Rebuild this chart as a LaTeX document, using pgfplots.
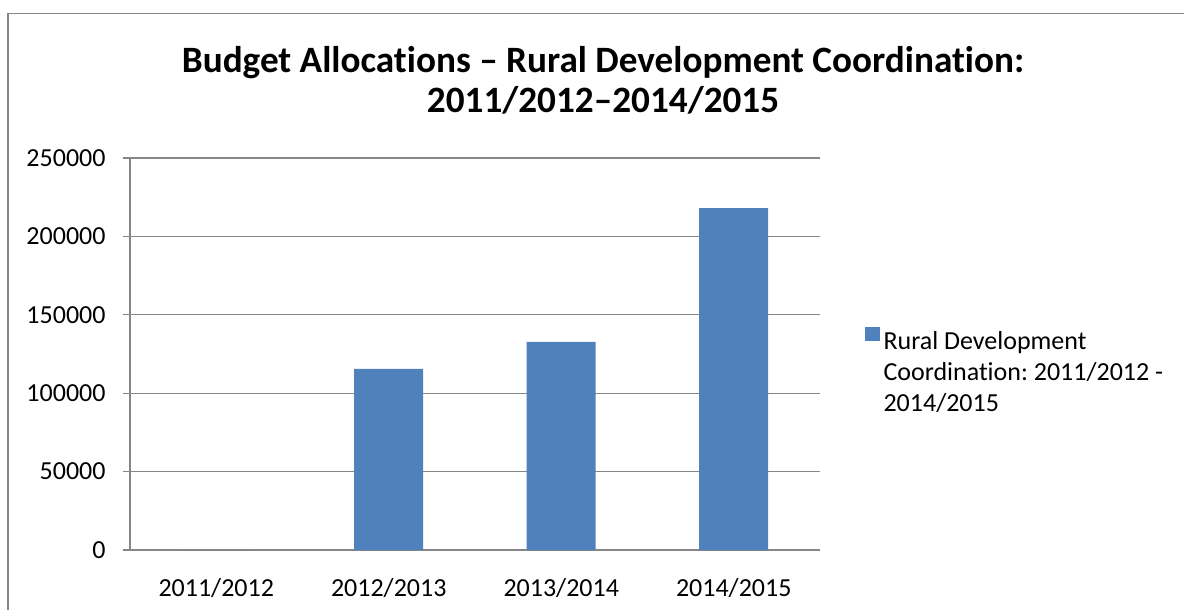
\documentclass[border=0pt]{standalone}
\usepackage{pgfplots}
\pgfplotsset{compat=1.18}
\usepackage{fontspec}
\setmainfont[Ligatures=NoCommon, Numbers={Monospaced,Lining}]{Carlito}
\frenchspacing
\definecolor{barblue}{HTML}{4F81BD}
\definecolor{axgray}{HTML}{868686}
\begin{document}
\begin{tikzpicture}
\useasboundingbox (0,0) rectangle (592pt,-305pt);
\draw[axgray, line width=0.9pt] (4pt,-320pt) -- (4pt,-6.8pt) -- (610pt,-6.8pt);
\node[font=\fontsize{18.6}{20}\selectfont\bfseries, align=center] at (301.5pt,-40pt)
  {Budget Allocations -- Rural Development Coordination:\\2011/2012--2014/2015};
\begin{axis}[
  at={(65pt,-275pt)}, anchor=south west,
  scale only axis, width=345pt, height=196pt,
  xmin=0, xmax=4, ymin=0, ymax=250000,
  axis lines*=left,
  axis line style={axgray, line width=0.6pt},
  ytick={0,50000,100000,150000,200000,250000},
  yticklabels={0,50000,100000,150000,200000,250000},
  scaled y ticks=false,
  ymajorgrids, grid style={axgray, line width=0.6pt},
  tick align=outside, major tick length=3.7pt,
  tick style={axgray, line width=0.6pt},
  xtick={0.5,1.5,2.5,3.5},
  xticklabels={2011/2012,2012/2013,2013/2014,2014/2015},
  xtick style={draw=none},
  extra x ticks={0,1,2,3,4}, extra x tick labels={},
  extra x tick style={tick style={axgray, line width=0.6pt}, major tick length=4pt},
  tick label style={font=\fontsize{13}{15}\selectfont},
  yticklabel style={xshift=-5pt},
  xticklabel style={yshift=-7pt},
  legend style={at={(axis description cs:1.064,0.57)}, anchor=north west, draw=none,
    inner sep=0pt, font=\fontsize{13}{15.5}\selectfont, nodes={align=left, anchor=north west}},
  legend image code/.code={\fill[barblue] (0pt,-7pt) rectangle (7.5pt,0pt);},
]
\addplot[ybar, bar width=34.5pt, fill=barblue, draw=none] coordinates {(0.5,0) (1.5,115500) (2.5,132700) (3.5,218000)};
\addlegendentry{Rural Development\\Coordination: 2011/2012 -\\2014/2015}
\end{axis}
\end{tikzpicture}
\end{document}
